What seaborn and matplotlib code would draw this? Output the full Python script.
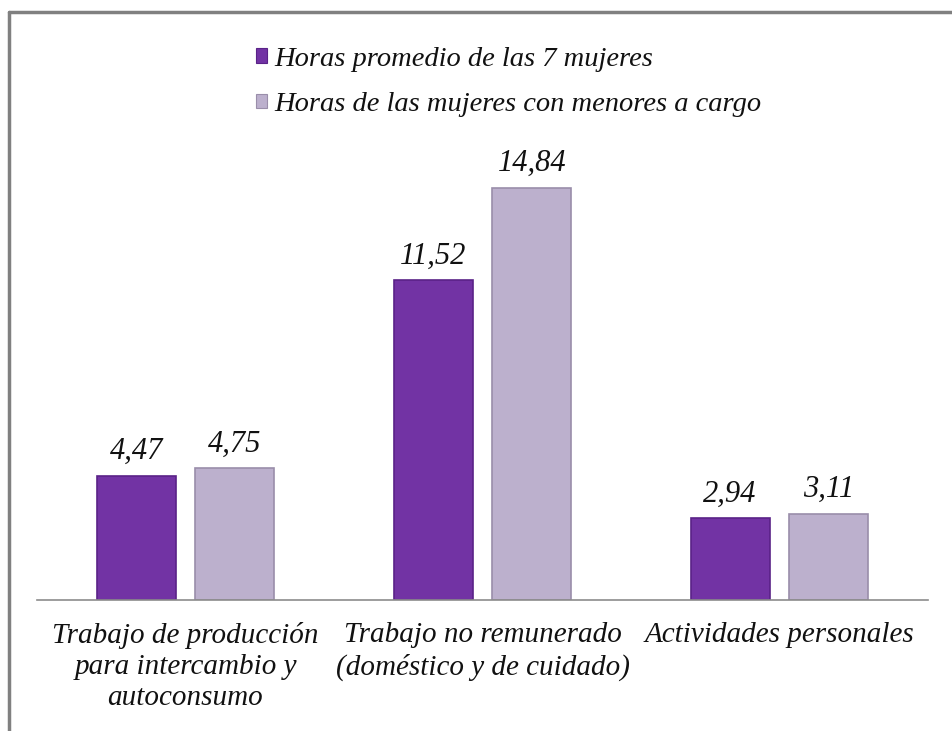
import pandas as pd
import matplotlib
matplotlib.use("Agg")
import matplotlib.pyplot as plt
import seaborn as sns
from matplotlib.patches import Rectangle
from matplotlib.lines import Line2D

categories = [
    "Trabajo de producción\npara intercambio y\nautoconsumo",
    "Trabajo no remunerado\n(doméstico y de cuidado)",
    "Actividades personales",
]
series_names = ["Horas promedio de las 7 mujeres", "Horas de las mujeres con menores a cargo"]
horas_promedio = [4.47, 11.52, 2.94]
horas_menores = [4.75, 14.84, 3.11]
colors = ["#7233A4", "#BCB0CD"]
edge_colors = ["#5A2288", "#9A8EAA"]

# long format for seaborn
df = pd.DataFrame({
    "Categoria": categories * 2,
    "Serie": [series_names[0]] * 3 + [series_names[1]] * 3,
    "Horas": horas_promedio + horas_menores,
})

sns.set_theme(style="white")
plt.rcParams["font.family"] = ["Liberation Serif", "DejaVu Serif"]
plt.rcParams["font.style"] = "italic"

fig = plt.figure(figsize=(9.52, 7.31), dpi=100)
ax = fig.add_axes([37 / 952, 131 / 731, 891 / 952, 0.6077])

sns.barplot(data=df, x="Categoria", y="Horas", hue="Serie", order=categories,
            hue_order=series_names, palette=colors, width=0.665, gap=0.2,
            saturation=1, ax=ax, legend=False)

# edge colours per series and value labels
for container, ec in zip(ax.containers, edge_colors):
    for bar in container:
        bar.set_edgecolor(ec)
        bar.set_linewidth(1.2)
    labels = [f"{v:.2f}".replace(".", ",") for v in container.datavalues]
    ax.bar_label(container, labels=labels, padding=7, fontsize=22, style="italic",
                 color="#111111")

ax.set_xlim(-0.5, 2.5)
ax.set_ylim(0, 16)
ax.set_xlabel("")
ax.set_ylabel("")
ax.set_yticks([])
ax.tick_params(axis="x", length=0, pad=16, labelsize=21, labelcolor="#111111")
for lbl in ax.get_xticklabels():
    lbl.set_linespacing(1.25)
    lbl.set_style("italic")
for s in ["top", "right", "left"]:
    ax.spines[s].set_visible(False)
ax.spines["bottom"].set_color("#8C8C8C")
ax.spines["bottom"].set_linewidth(1.2)

# legend
handles = [Rectangle((0, 0), 1, 1, facecolor=c, edgecolor=e, linewidth=0.8)
           for c, e in zip(colors, edge_colors)]
leg = fig.legend(handles, series_names, loc="upper left",
                 bbox_to_anchor=(230 / 952, (731 - 21) / 731), frameon=False,
                 handlelength=0.4, handleheight=0.4, handletextpad=0.25,
                 labelspacing=0.72, prop={"style": "italic", "size": 20.5})
for t in leg.get_texts():
    t.set_color("#111111")

# outer frame (left and top edges visible)
fig.add_artist(Line2D([9 / 952, 9 / 952], [0, (731 - 12) / 731], color="#808080", lw=2.5))
fig.add_artist(Line2D([9 / 952, 1], [(731 - 12) / 731, (731 - 12) / 731], color="#808080", lw=2.5))

fig.savefig("out.png", dpi=100)
